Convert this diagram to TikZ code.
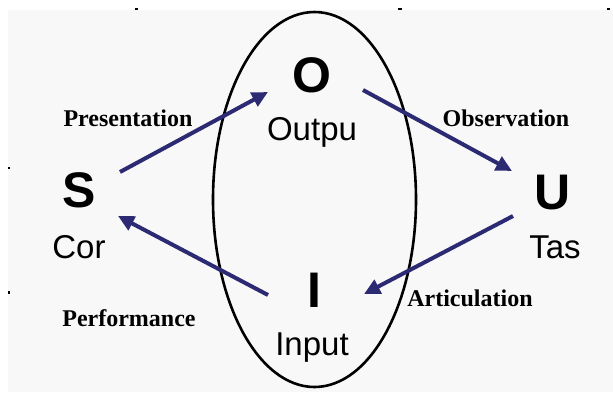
\documentclass[tikz,border=0pt]{standalone}
\usepackage{fontspec}
\setmainfont{Liberation Sans}
\newfontfamily\serifbf{Liberation Serif}
\usetikzlibrary{arrows.meta}
\definecolor{navy}{HTML}{2B2A72}
\definecolor{bgc}{HTML}{F8F8F8}
\begin{document}
\begin{tikzpicture}[x=1pt,y=-1pt,
  big/.style={font=\fontsize{50}{50}\selectfont\bfseries, anchor=base, inner sep=0pt},
  word/.style={font=\fontsize{33}{33}\selectfont, anchor=base, inner sep=0pt},
  lbl/.style={font=\serifbf\bfseries\fontsize{24}{24}\selectfont, anchor=base, inner sep=0pt},
  arr/.style={navy, line width=4pt, -{Triangle[length=16pt,width=15pt]}},
  speck/.style={fill=black}]
\useasboundingbox (0,0) rectangle (613,392);
\fill[white] (0,0) rectangle (613,392);
\fill[bgc] (8,10) rectangle (613,392);
% small specks
\fill[speck] (135,8) rectangle (138,10);
\fill[speck] (398,8) rectangle (402,10);
\fill[speck] (607,8) rectangle (610,10);
\fill[speck] (8,167) rectangle (10,169);
\fill[speck] (8,291) rectangle (10,294);
% ellipse
\draw[line width=2.6pt] (314.5,199.5) ellipse [x radius=101.5, y radius=187.5];
% letters and words
\node[big] (O) at (312,92) {O};
\node[word] (Ow) at (312,140) {Outpu};
\node[big] (S) at (79,207) {S};
\node[word] (Sw) at (79,258) {Cor};
\node[big] (U) at (553,209) {U};
\node[word] (Uw) at (555,258) {Tas};
\node[big] (I) at (314,307) {I};
\node[word] (Iw) at (312,355) {Input};
% labels
\node[lbl] (pres) at (128,126) {Presentation};
\node[lbl] (obs) at (506,126) {Observation};
\node[lbl] (perf) at (129,326) {Performance};
\node[lbl] (art) at (470,306) {Articulation};
% arrow ends
\coordinate (S1) at (120,172);
\coordinate (O1) at (268,92);
\coordinate (O2) at (363,90);
\coordinate (U1) at (512,171);
\coordinate (U2) at (513,216);
\coordinate (I1) at (364,294);
\coordinate (I2) at (268,295);
\coordinate (S2) at (118,216);
\draw[arr] (S1) -- (O1);
\draw[arr] (O2) -- (U1);
\draw[arr] (U2) -- (I1);
\draw[arr] (I2) -- (S2);
\end{tikzpicture}
\end{document}
